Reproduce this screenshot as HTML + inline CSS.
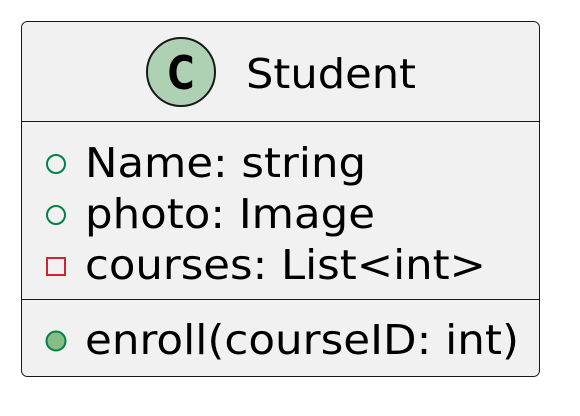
<!DOCTYPE html>
<html><head><style>html,body{margin:0;padding:0;background:#fff;}svg{display:block}</style></head>
<body>
<svg width="580" height="416" viewBox="0 0 580 416" xmlns="http://www.w3.org/2000/svg" font-family="'DejaVu Sans','Liberation Sans',sans-serif">
<rect x="21.5" y="21.5" width="518" height="355" rx="6" fill="#F1F1F1" stroke="#181818" stroke-width="1"/>
<line x1="22" y1="121.5" x2="539" y2="121.5" stroke="#181818"/>
<line x1="22" y1="299.5" x2="539" y2="299.5" stroke="#181818"/>
<circle cx="181" cy="72" r="34" fill="#ADD1B2" stroke="#181818" stroke-width="2"/>
<text x="181" y="89" text-anchor="middle" font-size="46" font-weight="bold" fill="#000" transform="scale(0.8,1) translate(45.25,0)">C</text>
<text x="246" y="88" font-size="41" fill="#000" textLength="170" lengthAdjust="spacingAndGlyphs">Student</text>
<circle cx="56" cy="164" r="9" fill="none" stroke="#038048" stroke-width="2"/>
<text x="85" y="177" font-size="41" fill="#000" textLength="281" lengthAdjust="spacingAndGlyphs">Name: string</text>
<circle cx="56" cy="215" r="9" fill="none" stroke="#038048" stroke-width="2"/>
<text x="85" y="228" font-size="41" fill="#000" textLength="290" lengthAdjust="spacingAndGlyphs">photo: Image</text>
<rect x="47" y="258" width="18" height="17" fill="none" stroke="#C82930" stroke-width="2"/>
<text x="85" y="279" font-size="41" fill="#000" textLength="401" lengthAdjust="spacingAndGlyphs">courses: List&lt;int&gt;</text>
<circle cx="56" cy="341" r="9.5" fill="#84BE84" stroke="#038048" stroke-width="2"/>
<text x="85" y="354" font-size="41" fill="#000" textLength="434" lengthAdjust="spacingAndGlyphs">enroll(courseID: int)</text>
</svg>
</body></html>
